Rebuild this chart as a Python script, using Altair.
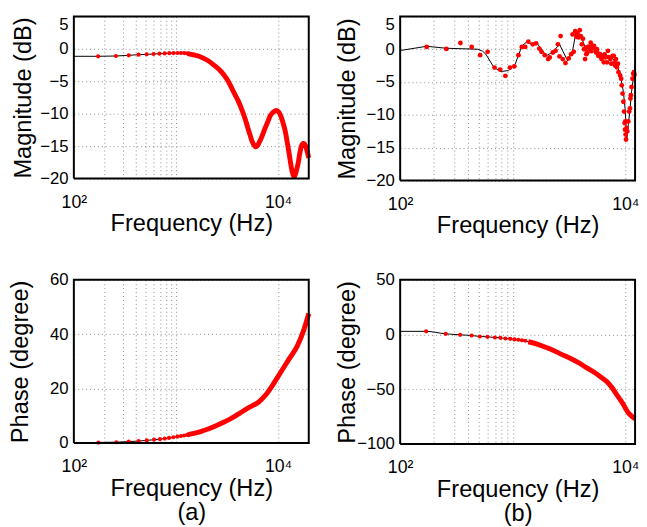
import altair as alt
import pandas as pd

# ---------------- (a) magnitude ----------------
a_mag_line_f = [100, 173, 261, 345, 431, 517, 603, 690, 861, 1000, 1150, 1300, 1500, 1750, 2050,
                2355, 2650, 2940, 3250, 3530, 3800, 4095, 4400, 4740, 5000, 5300, 5550, 5800, 6050,
                6300, 6600, 6870, 7400, 7960, 8400, 8900, 9570, 10300, 11100, 11800, 12400, 12900,
                13340, 13800, 14360, 14900, 15400, 15800, 16300, 16800, 17270, 17800, 18560, 19300, 20000]
a_mag_line_v = [-1.15, -1.15, -1.1, -1.0, -0.9, -0.85, -0.8, -0.75, -0.68, -0.64, -0.66, -0.75, -0.95,
                -1.25, -1.8, -2.5, -3.2, -4.0, -5.0, -6.1, -7.1, -8.1, -9.3, -10.7, -11.9, -13.2, -14.2,
                -14.8, -15.1, -14.9, -14.3, -13.7, -12.4, -11.2, -10.3, -9.8, -9.5, -9.9, -11.2, -12.8,
                -14.7, -16.3, -17.8, -19.0, -19.7, -19.2, -18.3, -17.5, -16.2, -15.2, -14.7, -14.6,
                -14.9, -15.8, -16.8]
a_mag_dot_f = [173, 258, 345, 431, 517, 603, 689, 775, 861, 947, 1034, 1120, 1206, 1292]
a_mag_dot_v = [-1.15, -1.1, -1.0, -0.9, -0.84, -0.79, -0.75, -0.7, -0.67, -0.65, -0.64, -0.64, -0.66, -0.7]

# ---------------- (a) phase ----------------
a_ph_line_f = [100, 174, 261, 345, 431, 518, 610, 697, 778, 856, 943, 1045, 1300, 1500, 1750, 2100,
               2535, 3000, 3660, 4200, 4920, 5600, 6380, 7000, 7670, 8900, 10700, 12850, 15460, 17900, 20000]
a_ph_line_v = [0.0, 0.2, 0.3, 0.5, 0.7, 0.95, 1.2, 1.4, 1.6, 1.8, 2.1, 2.4, 3.0, 3.5, 4.2, 5.2, 6.5,
               7.8, 9.5, 10.9, 12.5, 13.7, 14.9, 16.3, 17.9, 21.4, 26.2, 30.9, 35.7, 41.6, 47.6]
a_ph_dot_f = [174, 261, 345, 431, 518, 610, 697, 778, 856, 943, 1034, 1120, 1206, 1292]
a_ph_dot_v = [0.15, 0.25, 0.5, 0.7, 0.95, 1.2, 1.4, 1.6, 1.85, 2.1, 2.35, 2.55, 2.75, 2.95]

# ---------------- (b) magnitude ----------------
b_mag_line_f = [100, 172, 257, 487, 540, 576, 680, 778, 919, 1052, 1163, 1203, 1330, 1521, 1627, 1798,
                1989, 2271, 2600, 2779, 3070, 3397, 3636, 4020, 4297, 4594, 4916, 5436, 6210, 7109,
                8128, 8990, 9610, 9940, 10140, 10260, 10620, 10990, 11350, 11910, 12200]
b_mag_line_v = [-0.2, 0.45, 0.15, 0.0, -0.3, -0.75, -2.75, -3.4, -3.25, -2.25, -0.25, 0.5, 1.1, 0.75,
                1.0, 0.0, -1.0, -0.4, 0.75, -0.25, -1.75, -0.25, 2.5, 2.0, 0.75, -0.25, 0.25, 0.0, -1.0,
                -1.0, -1.75, -3.75, -6.5, -9.0, -11.5, -14.0, -11.5, -9.25, -6.5, -3.75, -2.5]
b_mag_dot_f = [172, 257, 343, 432, 513, 598, 689, 772, 860, 945, 1033, 1124, 1203, 1290, 1376, 1505,
               1610, 1720, 1798, 1925, 2061, 2130, 2271, 2400, 2520, 2600, 2660, 2780, 2940, 3140,
               3300, 3400, 3480, 3590, 3680, 3760, 3850, 3940, 4020, 4110, 4200, 4300, 4390, 4450,
               4500, 4600, 4690, 4800, 4920, 5000, 5090, 5260, 5370, 5500, 5600, 5640, 5750, 5910,
               5960, 6050, 6150, 6300, 6440, 6550, 6650, 6870, 7010, 7100, 7350, 7500, 7700, 7900,
               8030, 8130, 8250, 8420, 8600, 8700, 8990, 9180, 9290, 9450, 9610, 9740, 9850, 9940,
               10000, 10060, 10140, 10250, 10400, 10620, 10820, 10990, 11100, 11200, 11350, 11580,
               11750, 11910, 12050]
b_mag_dot_v = [0.35, 0.05, 0.95, 0.35, -0.9, -0.4, -2.8, -3.1, -4.05, -2.8, -2.6, -0.9, 0.35, 0.35,
               1.15, 0.75, 0.9, 0.1, -0.4, -0.9, -1.5, -1.25, -0.5, -0.25, 0.75, -1.1, 2.0, -1.5,
               -2.1, -1.4, -0.75, 2.25, -0.4, 2.75, 1.9, 2.4, 1.8, 2.9, 2.0, 0.75, 1.6, 0.0, -1.5,
               0.25, -0.75, -0.5, 0.4, 0.1, 1.0, -0.3, 0.5, 0.5, 0.1, -0.5, 0.0, -0.5, -1.0, -1.0,
               -0.75, -1.2, -1.5, -1.0, -2.0, -0.8, -1.25, -2.0, -0.25, -1.2, -1.5, -2.2, -1.0, -1.0,
               -2.0, -2.5, -1.5, -2.75, -2.2, -3.5, -4.0, -4.5, -5.5, -6.75, -8.0, -9.5, -11.25,
               -12.25, -11.0, -13.0, -13.75, -12.0, -12.5, -11.0, -9.5, -9.0, -7.5, -7.0, -5.75,
               -4.5, -3.75, -3.5, -3.9]

# ---------------- (b) phase ----------------
b_ph_line_f = [100, 170, 254, 341, 432, 510, 596, 694, 776, 860, 950, 1035, 1200, 1374, 1650, 1923,
               2300, 2690, 3200, 3760, 4400, 5250, 6000, 6870, 7600, 8400, 9000, 9610, 10100, 10620,
               11300, 12200]
b_ph_line_v = [2.9, 2.9, 0.6, -0.3, -0.9, -1.8, -2.1, -2.7, -3.0, -3.6, -3.9, -4.5, -5.4, -6.6, -8.8,
               -11.3, -14.5, -17.9, -21.5, -25.3, -29.5, -34.3, -38.5, -43.2, -48.5, -55.1, -59.5,
               -64.0, -68.0, -71.4, -74.3, -76.8]
b_ph_dot_f = [170, 254, 341, 432, 510, 596, 694, 776, 860, 950, 1035, 1120, 1206, 1292]
b_ph_dot_v = [2.9, 0.6, -0.3, -0.9, -1.8, -2.1, -2.7, -3.0, -3.6, -3.9, -4.5, -4.8, -5.2, -5.7]

grid_freqs = [100, 200, 300, 400, 500, 600, 700, 800, 900, 1000, 10000]
mag_ticks = [-20, -15, -10, -5, 0, 5]
a_ph_ticks = [0, 20, 40, 60]
b_ph_ticks = [-100, -50, 0, 50]

FONT = "Liberation Sans"
RED = "#ff0000"


def panel(line_f, line_v, dot_f, dot_v, red_from, xmax, ydom, yvals, ytitle, xtitle,
          w, h, ytitle_x, dot_size, interp, top_flush):
    line_df = pd.DataFrame({"f": line_f, "v": line_v})
    dot_df = pd.DataFrame({"f": dot_f, "v": dot_v})
    # box outline: the four corners of the axes' domain, in drawing order
    box_df = pd.DataFrame({
        "f": [100, xmax, xmax, 100, 100],
        "v": [ydom[0], ydom[0], ydom[1], ydom[1], ydom[0]],
        "k": [0, 1, 2, 3, 4],
    })
    xaxis = alt.Axis(
        values=grid_freqs,
        labelExpr="datum.value == 100 ? '10²' : (datum.value == 10000 ? '10⁴' : '')",
        grid=True, gridDash=[1, 3], gridColor="#8c8c8c", gridWidth=1,
        ticks=False, domain=False,
        labelFlush=False, labelOverlap=False,
        labelPadding=15, labelFontSize=18, labelFont=FONT, labelColor="black",
        title=xtitle, titleFontSize=24, titleFont=FONT, titleFontWeight="normal",
        titleColor="black", titleX=w / 2, titleY=53, titleAlign="center",
        titleBaseline="alphabetic", titleLineHeight=25,
    )
    ykw = {}
    if top_flush:
        ykw["labelBaseline"] = {"condition": {"test": "datum.value == 5", "value": "top"},
                                "value": "middle"}
    yaxis = alt.Axis(
        values=yvals, tickCount=len(yvals), grid=True, gridDash=[1, 3], gridColor="#8c8c8c",
        gridWidth=1, ticks=False, domain=False,
        labelFlush=False, labelOverlap=False,
        labelPadding=6, labelFontSize=17, labelFont=FONT, labelColor="black",
        title=ytitle, titleFontSize=24, titleFont=FONT, titleFontWeight="normal",
        titleColor="black", titleAngle=270, titleX=ytitle_x, titleY=h / 2,
        titleAlign="center", titleBaseline="alphabetic", **ykw,
    )
    xs = alt.Scale(type="log", domain=[100, xmax], nice=False)
    ys = alt.Scale(domain=ydom, nice=False, zero=False)
    black = alt.Chart(line_df).mark_line(color="black", strokeWidth=1,
                                         interpolate=interp).encode(
        x=alt.X("f:Q", scale=xs, axis=xaxis),
        y=alt.Y("v:Q", scale=ys, axis=yaxis),
    )
    red_line = alt.Chart(line_df).transform_filter(alt.datum.f >= red_from).mark_line(
        color=RED, strokeWidth=5, strokeCap="butt", strokeJoin="round",
        interpolate=interp).encode(x="f:Q", y="v:Q")
    dots = alt.Chart(dot_df).mark_circle(color=RED, size=dot_size, opacity=1).encode(
        x="f:Q", y="v:Q")
    box = alt.Chart(box_df).mark_line(color="black", strokeWidth=2,
                                      strokeJoin="miter").encode(
        x="f:Q", y="v:Q", order="k:Q")
    return alt.layer(black, red_line, dots, box).properties(width=w, height=h)


p1 = panel(a_mag_line_f, a_mag_line_v, a_mag_dot_f, a_mag_dot_v, 1250, 20000, [-20, 5], mag_ticks,
           "Magnitude (dB)", "Frequency (Hz)", 239, 165, -44, 18, "monotone", True)
p2 = panel(b_mag_line_f, b_mag_line_v, b_mag_dot_f, b_mag_dot_v, 1e9, 12200, [-20, 5], mag_ticks,
           "Magnitude (dB)", "Frequency (Hz)", 239, 167, -46, 24, "linear", True)
p3 = panel(a_ph_line_f, a_ph_line_v, a_ph_dot_f, a_ph_dot_v, 1250, 20000, [0, 60], a_ph_ticks,
           "Phase (degree)", ["Frequency (Hz)", "(a)"], 239, 166, -47, 18, "monotone", False)
p4 = panel(b_ph_line_f, b_ph_line_v, b_ph_dot_f, b_ph_dot_v, 1250, 12200, [-100, 50], b_ph_ticks,
           "Phase (degree)", ["Frequency (Hz)", "(b)"], 239, 167, -46, 18, "monotone", False)

chart = alt.concat(p1, p2, p3, p4, columns=2, spacing={"row": 101, "column": 93},
                   bounds="flush").properties(
    padding={"left": 1, "top": 0, "right": 0, "bottom": 0}, background="white"
).configure_view(strokeWidth=0)

chart.save("out.html", embed_options={"renderer": "svg", "actions": False})
